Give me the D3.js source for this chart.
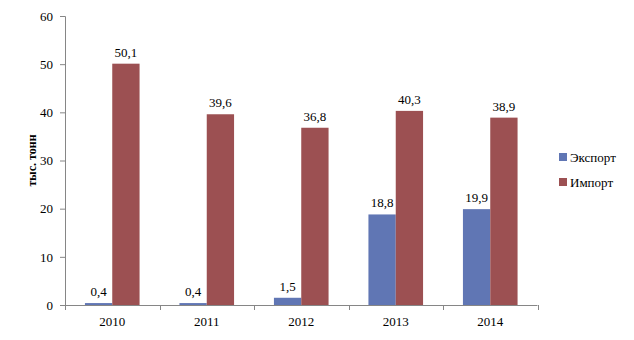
<!DOCTYPE html>
<html><head><meta charset="utf-8">
<script src="https://cdn.jsdelivr.net/npm/d3@7"></script>
<style>body{margin:0;background:#fff}svg{display:block}svg text{font-family:'Times New Roman','Liberation Serif',serif !important;fill:#000}</style>
</head><body><svg id="c" width="634" height="340"></svg>
<script>
const years = ["2010","2011","2012","2013","2014"];
const seriesNames = ["Экспорт","Импорт"];
const exportVals = [0.4, 0.4, 1.5, 18.8, 19.9];
const importVals = [50.1, 39.6, 36.8, 40.3, 38.9];
const yTicks = [0,10,20,30,40,50,60];
const colors = ["#6076b4","#9c5052"];
const yTitle = "тыс. тонн";

const svg = d3.select("#c");
const L = 65, R = 537.5, T = 16, B = 305;
const x = d3.scaleBand().domain(years).range([L, R]).padding(0);
const xs = d3.scaleBand().domain(seriesNames).range([0, x.bandwidth()]).paddingInner(0).paddingOuter(0.73);
const y = d3.scaleLinear().domain([0,60]).range([B, T]);
const axisColor = "#868686";

// y axis
const ya = svg.append("g").attr("transform",`translate(${L},0)`)
  .call(d3.axisLeft(y).tickValues(yTicks).tickSize(5).tickPadding(7).tickFormat(d3.format("d")));
ya.selectAll("path,line").attr("stroke",axisColor);
ya.selectAll("text").style("font-size","13px").attr("fill","#000");

// bars
const data = years.map((yr,i)=>({yr, vals:[exportVals[i], importVals[i]]}));
const g = svg.append("g");
data.forEach(d=>{
  d.vals.forEach((v,j)=>{
    const name = seriesNames[j];
    g.append("rect").attr("x", x(d.yr)+xs(name)).attr("width", xs.bandwidth())
      .attr("y", y(v)).attr("height", y(0)-y(v)).attr("fill", colors[j]);
    g.append("text").attr("x", x(d.yr)+xs(name)+xs.bandwidth()/2).attr("y", y(v)-7)
      .attr("text-anchor","middle").style("font-size","13px")
      .text(String(v.toFixed(1)).replace(".",","));
  });
});

// x axis
const xa = svg.append("g").attr("transform",`translate(0,${B})`)
  .call(d3.axisBottom(x).tickSize(0).tickPadding(12));
xa.select("path").remove();
xa.selectAll("text").style("font-size","13px").attr("fill","#000");
svg.append("line").attr("x1",L).attr("x2",R).attr("y1",B+0.5).attr("y2",B+0.5).attr("stroke",axisColor);
const bounds = years.map(yr=>x(yr)).concat([x(years[years.length-1])+x.step()]);
svg.selectAll(".xt").data(bounds).enter().append("line")
  .attr("x1",d=>Math.round(d)+0.5).attr("x2",d=>Math.round(d)+0.5)
  .attr("y1",B).attr("y2",B+5).attr("stroke",axisColor);

// y title
svg.append("text").attr("transform",`translate(36,${(T+B)/2}) rotate(-90)`)
  .attr("text-anchor","middle").style("font-size","12px").style("font-weight","bold").text(yTitle);

// legend
const lg = svg.append("g");
seriesNames.forEach((n,i)=>{
  lg.append("rect").attr("x",559).attr("y",153+i*25).attr("width",8).attr("height",8).attr("fill",colors[i]);
  lg.append("text").attr("x",570).attr("y",162+i*25).style("font-size","13px").text(n);
});
</script></body></html>
